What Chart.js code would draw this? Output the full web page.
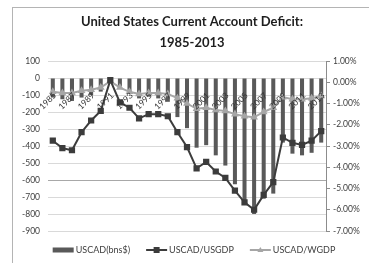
<!DOCTYPE html>
<html>
<head>
<meta charset="utf-8">
<script src="https://cdn.jsdelivr.net/npm/chart.js@4.4.1/dist/chart.umd.min.js"></script>
<style>
  html, body { margin: 0; padding: 0; background: #fff; overflow: hidden; }
  #wrap { position: relative; width: 369px; height: 263px; overflow: hidden; }
  #frame {
    position: absolute; left: 12px; top: 7px; width: 420px; height: 320px;
    border: 1px solid #b4b4b4; box-sizing: border-box;
  }
  #chart { position: absolute; left: 0; top: 0; }
</style>
</head>
<body>
<div id="wrap">
  <div id="frame"></div>
  <canvas id="chart" width="369" height="263"></canvas>
</div>
<script>
(function () {
  'use strict';

  var titleLines = ['United States Current Account Deficit:', '1985-2013'];

  var years = [
    '1985', '1986', '1987', '1988', '1989', '1990', '1991', '1992', '1993', '1994',
    '1995', '1996', '1997', '1998', '1999', '2000', '2001', '2002', '2003', '2004',
    '2005', '2006', '2007', '2008', '2009', '2010', '2011', '2012', '2013'
  ];

  // current account, billions of dollars (left axis)
  var uscad = [
    -115, -125, -135, -115, -100, -80, 3, -50, -85, -120,
    -110, -120, -140, -230, -295, -410, -395, -455, -515, -625,
    -735, -800, -710, -680, -380, -445, -455, -440, -380
  ];

  // share of US GDP, percent (right axis)
  var usgdp = [
    -2.75, -3.1, -3.2, -2.35, -1.8, -1.35, 0.1, -0.95, -1.2, -1.7,
    -1.5, -1.5, -1.6, -2.35, -3.05, -4.05, -3.75, -4.2, -4.5, -5.1,
    -5.65, -6.0, -5.3, -4.7, -2.6, -2.85, -2.95, -2.75, -2.3
  ];

  // share of world GDP, percent (right axis)
  var wgdp = [
    -0.45, -0.5, -0.5, -0.4, -0.35, -0.25, 0.05, -0.25, -0.45, -0.55,
    -0.5, -0.5, -0.55, -0.75, -1.0, -1.25, -1.2, -1.3, -1.35, -1.5,
    -1.6, -1.65, -1.4, -1.2, -0.7, -0.8, -0.8, -0.75, -0.65
  ];

  var leftTicks = { min: -900, max: 100, step: 100 };
  var rightTicks = { min: -7, max: 1, step: 1 };

  // legend lists the bars first, as in the source
  var legendOrder = [2, 0, 1];

  var font = 'Lato, "Open Sans", sans-serif';
  var textColor = '#404040';

  var decor = {
    id: 'decor',
    afterDatasetsDraw: function (chart) {
      var ctx = chart.ctx;
      var xs = chart.scales.x;
      var ys = chart.scales.y;
      var y0 = ys.getPixelForValue(0);
      ctx.save();
      ctx.font = '8.5px ' + font;
      ctx.fillStyle = '#333333';
      ctx.textAlign = 'right';
      ctx.textBaseline = 'middle';
      years.forEach(function (yr, i) {
        if (i % 2 !== 0) {
          return;
        }
        var x = xs.getPixelForValue(i);
        ctx.save();
        ctx.translate(x + 2, y0 + 16);
        ctx.rotate(-Math.PI / 4);
        ctx.fillText(yr, 0, 0);
        ctx.restore();
      });
      ctx.restore();
    },
    afterDraw: function (chart) {
      var ctx = chart.ctx;
      ctx.save();

      // title
      ctx.font = 'bold 13px ' + font;
      ctx.fillStyle = '#1e1e1e';
      ctx.textAlign = 'center';
      ctx.textBaseline = 'middle';
      ctx.fillText(titleLines[0], 192, 22);
      ctx.fillText(titleLines[1], 192, 43);

      // legend
      var ds = legendOrder.map(function (k) {
        return chart.data.datasets[k];
      });
      ctx.font = '9px ' + font;
      ctx.textAlign = 'left';
      var sym = 21;
      var gap = 16;
      var widths = ds.map(function (d) {
        return ctx.measureText(d.label).width;
      });
      var total = widths.reduce(function (a, w) {
        return a + sym + 2 + w;
      }, 0) + gap * (ds.length - 1);
      var x = 194 - total / 2;
      var ly = 250;
      ds.forEach(function (d, i) {
        if (d.type === 'bar') {
          ctx.fillStyle = d.backgroundColor;
          ctx.fillRect(x, ly - 2.5, sym, 5);
        } else {
          ctx.strokeStyle = d.borderColor;
          ctx.lineWidth = 2;
          ctx.beginPath();
          ctx.moveTo(x, ly);
          ctx.lineTo(x + sym, ly);
          ctx.stroke();
          ctx.fillStyle = d.pointBackgroundColor;
          var cx = x + sym / 2;
          if (d.pointStyle === 'rect') {
            ctx.fillRect(cx - 3, ly - 3, 6, 6);
          } else {
            ctx.beginPath();
            ctx.moveTo(cx, ly - 3);
            ctx.lineTo(cx + 3, ly + 2);
            ctx.lineTo(cx - 3, ly + 2);
            ctx.closePath();
            ctx.fill();
          }
        }
        ctx.fillStyle = textColor;
        ctx.fillText(d.label, x + sym + 2, ly + 0.5);
        x += sym + 2 + widths[i] + gap;
      });

      ctx.restore();
    }
  };

  new Chart(document.getElementById('chart'), {
    data: {
      labels: years,
      datasets: [
        {
          type: 'line',
          label: 'USCAD/USGDP',
          data: usgdp,
          yAxisID: 'y1',
          borderColor: '#3c3c3c',
          backgroundColor: '#3c3c3c',
          pointBackgroundColor: '#3c3c3c',
          pointBorderColor: '#3c3c3c',
          borderWidth: 2,
          pointStyle: 'rect',
          pointRadius: 3,
          tension: 0,
          order: 1
        },
        {
          type: 'line',
          label: 'USCAD/WGDP',
          data: wgdp,
          yAxisID: 'y1',
          borderColor: '#a6a6a6',
          backgroundColor: '#a6a6a6',
          pointBackgroundColor: '#a6a6a6',
          pointBorderColor: '#a6a6a6',
          borderWidth: 2,
          pointStyle: 'triangle',
          pointRadius: 2.5,
          tension: 0,
          order: 2
        },
        {
          type: 'bar',
          label: 'USCAD(bns$)',
          data: uscad,
          yAxisID: 'y',
          backgroundColor: '#595959',
          barPercentage: 0.42,
          categoryPercentage: 1,
          order: 3
        }
      ]
    },
    options: {
      responsive: false,
      animation: false,
      devicePixelRatio: 1,
      layout: { padding: { top: 61, bottom: 32, left: 0, right: 0 } },
      scales: {
        x: {
          type: 'category',
          display: false,
          offset: true
        },
        y: {
          position: 'left',
          min: leftTicks.min,
          max: leftTicks.max,
          afterFit: function (s) { s.width = 48; },
          ticks: {
            stepSize: leftTicks.step,
            padding: 8,
            color: textColor,
            font: { family: font, size: 8.5 }
          },
          grid: {
            drawTicks: false,
            color: function (c) {
              return c.tick && c.tick.value === -600 ? '#a8a8a8' : '#d9d9d9';
            }
          },
          border: { display: false }
        },
        y1: {
          position: 'right',
          min: rightTicks.min,
          max: rightTicks.max,
          afterFit: function (s) { s.width = 43; },
          ticks: {
            stepSize: rightTicks.step,
            padding: 3,
            color: textColor,
            font: { family: font, size: 8.5 },
            callback: function (v) { return v.toFixed(2) + '%'; }
          },
          grid: {
            drawOnChartArea: false,
            tickLength: 4,
            color: '#8c8c8c'
          },
          border: { display: true, color: '#8c8c8c' }
        }
      },
      plugins: {
        legend: { display: false },
        title: { display: false },
        tooltip: { enabled: false }
      }
    },
    plugins: [decor]
  });
})();
</script>
</body>
</html>
